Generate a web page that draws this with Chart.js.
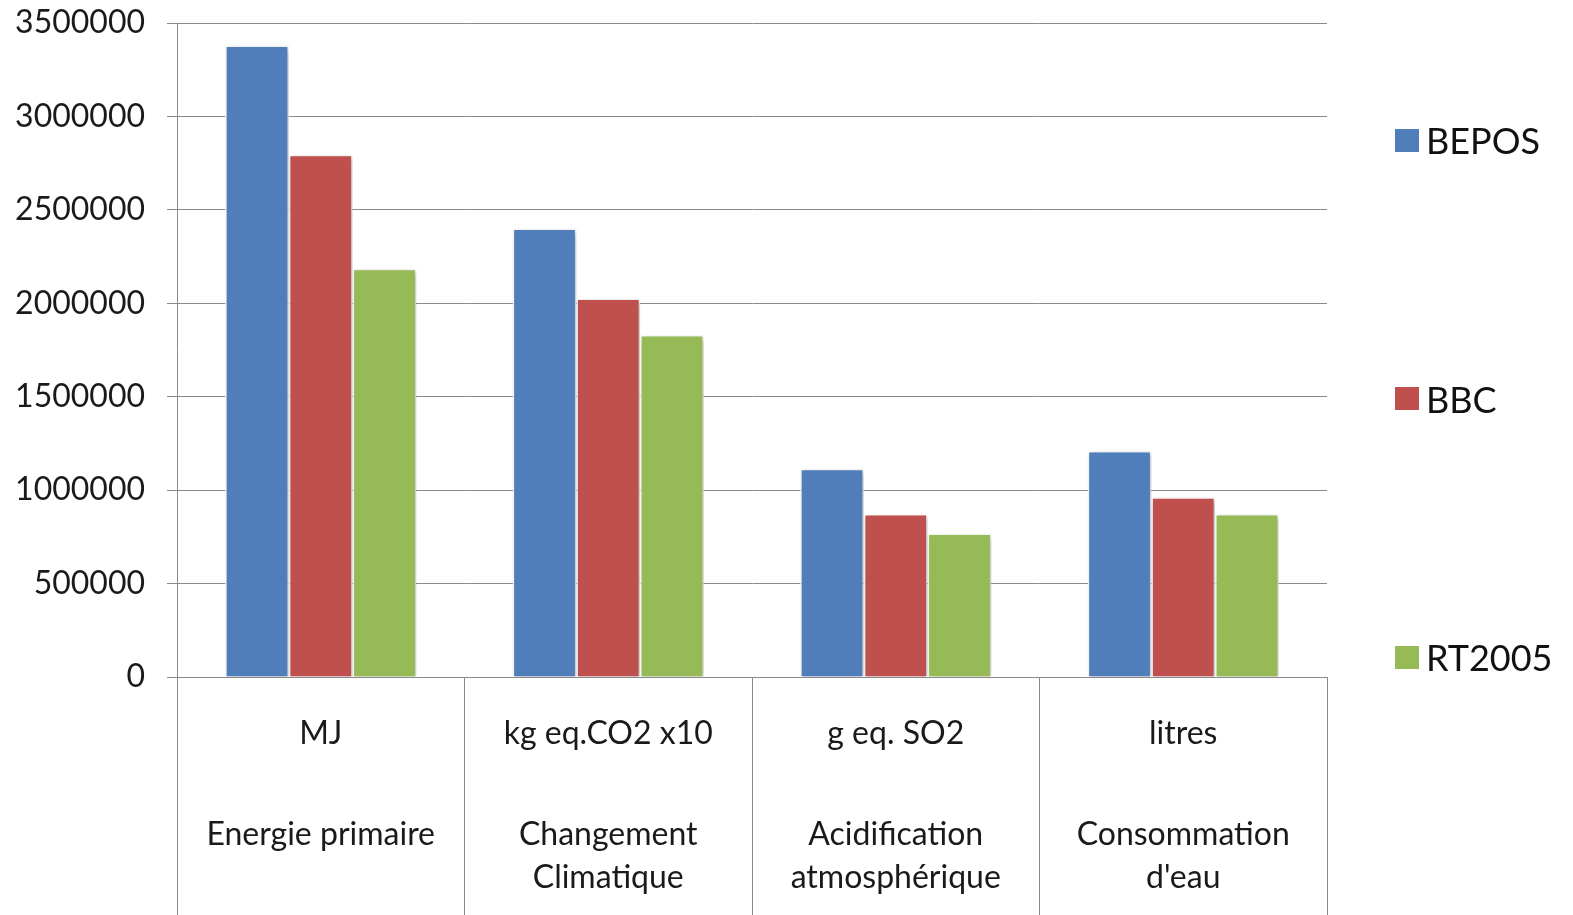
<!DOCTYPE html>
<html>
<head>
<meta charset="utf-8">
<script src="https://cdn.jsdelivr.net/npm/chart.js@4"></script>
<style>
  body { margin: 0; background: #fff; }
  #wrap { position: relative; width: 1573px; height: 915px; }
  #legend { position: absolute; left: 1395px; top: 120px; height: 557px;
    display: flex; flex-direction: column; justify-content: space-between;
    font-family: Lato, sans-serif; font-size: 36px; color: #111; }
  #legend div { display: flex; align-items: center; height: 40px; }
  #legend span { display: inline-block; width: 24px; height: 23px; margin-right: 7px; }
</style>
</head>
<body>
<div id="wrap">
  <canvas id="chart"></canvas>
  <div id="legend"></div>
</div>
<script>
// units (first row) and impact names (second row) under each group
const units = ['MJ', 'kg eq.CO2 x10', 'g eq. SO2', 'litres'];
const names = [['Energie primaire'], ['Changement', 'Climatique'], ['Acidification', 'atmosphérique'], ['Consommation', "d'eau"]];
const bepos = [3380000, 2400000, 1115000, 1210000];
const bbc = [2795000, 2025000, 872000, 962000];
const rt2005 = [2185000, 1830000, 768000, 872000];
const yTicks = [0, 500000, 1000000, 1500000, 2000000, 2500000, 3000000, 3500000];

const gray = '#8a8a8a';
const labelFont = { family: 'Lato', size: 32, lineHeight: 1.34 };

// soft drop shadow under the bars
const barShadow = {
  id: 'barShadow',
  beforeDatasetsDraw(chart) {
    const ctx = chart.ctx;
    ctx.save();
    ctx.shadowColor = 'rgba(0,0,0,0.28)';
    ctx.shadowBlur = 6;
    ctx.shadowOffsetX = 2;
    ctx.shadowOffsetY = 2;
  },
  afterDatasetsDraw(chart) {
    chart.ctx.restore();
  }
};

const chart = new Chart(document.getElementById('chart'), {
  type: 'bar',
  data: {
    labels: units,
    datasets: [
      { label: 'BEPOS', data: bepos, backgroundColor: '#4F7EBA' },
      { label: 'BBC', data: bbc, backgroundColor: '#C0504D' },
      { label: 'RT2005', data: rt2005, backgroundColor: '#96BA55' }
    ]
  },
  options: {
    responsive: true,
    maintainAspectRatio: false,
    animation: false,
    layout: { padding: { left: 0, right: 246, top: 0, bottom: 0 } },
    datasets: { bar: { borderColor: '#ffffff', borderWidth: 1.5, categoryPercentage: 0.665, barPercentage: 1 } },
    plugins: { legend: { display: false }, tooltip: { enabled: false } },
    scales: {
      x: {
        weight: 0,
        // long tick marks make the boxes round the category labels
        grid: { offset: true, drawOnChartArea: false, tickLength: 240, color: gray },
        border: { color: gray },
        ticks: { padding: -205, autoSkip: false, maxRotation: 0, color: '#1a1a1a', font: labelFont },
        afterFit(scale) { scale.height = 80; }
      },
      x2: {
        type: 'category',
        position: 'bottom',
        weight: 1,
        labels: names,
        offset: true,
        grid: { display: false },
        border: { display: false },
        ticks: { padding: 48, autoSkip: false, maxRotation: 0, color: '#1a1a1a', font: labelFont },
        afterFit(scale) { scale.height = 158; }
      },
      y: {
        min: 0, max: 3500000,
        afterBuildTicks(scale) { scale.ticks = yTicks.map(v => ({ value: v })); },
        afterFit(scale) { scale.width = 177; scale.paddingTop = 23; scale.paddingBottom = 0; },
        grid: { color: gray, tickLength: 10 },
        border: { color: gray },
        ticks: {
          padding: 22, color: '#1a1a1a',
          font: { family: 'Lato', size: 32 },
          callback: v => String(v)
        }
      }
    }
  },
  plugins: [barShadow]
});

// legend spread down the right side, as in the original
const legendBox = document.getElementById('legend');
chart.data.datasets.forEach(ds => {
  const item = document.createElement('div');
  const box = document.createElement('span');
  box.style.background = ds.backgroundColor;
  item.appendChild(box);
  item.appendChild(document.createTextNode(ds.label));
  legendBox.appendChild(item);
});
</script>
</body>
</html>
